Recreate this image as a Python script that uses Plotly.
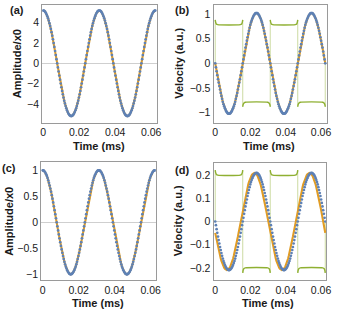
import plotly.graph_objects as go

# ---------------- data ----------------
time_ms = [
    0.0, 0.00039, 0.00078, 0.00117, 0.00156, 0.00195, 0.00234, 0.00273, 0.00312, 0.00351,
    0.0039, 0.00429, 0.00468, 0.00507, 0.00546, 0.00585, 0.00624, 0.00663, 0.00702, 0.00741,
    0.0078, 0.00819, 0.00858, 0.00897, 0.00936, 0.00975, 0.01014, 0.01053, 0.01092, 0.01131,
    0.0117, 0.01209, 0.01248, 0.01287, 0.01326, 0.01365, 0.01404, 0.01443, 0.01482, 0.01521,
    0.0156, 0.01599, 0.01638, 0.01677, 0.01716, 0.01755, 0.01794, 0.01833, 0.01872, 0.01911,
    0.0195, 0.01989, 0.02028, 0.02067, 0.02106, 0.02145, 0.02184, 0.02223, 0.02262, 0.02301,
    0.0234, 0.02379, 0.02418, 0.02457, 0.02496, 0.02535, 0.02574, 0.02613, 0.02652, 0.02691,
    0.0273, 0.02769, 0.02808, 0.02847, 0.02886, 0.02925, 0.02964, 0.03003, 0.03042, 0.03081,
    0.0312, 0.03159, 0.03198, 0.03237, 0.03276, 0.03315, 0.03354, 0.03393, 0.03432, 0.03471,
    0.0351, 0.03549, 0.03588, 0.03627, 0.03666, 0.03705, 0.03744, 0.03783, 0.03822, 0.03861,
    0.039, 0.03939, 0.03978, 0.04017, 0.04056, 0.04095, 0.04134, 0.04173, 0.04212, 0.04251,
    0.0429, 0.04329, 0.04368, 0.04407, 0.04446, 0.04485, 0.04524, 0.04563, 0.04602, 0.04641,
    0.0468, 0.04719, 0.04758, 0.04797, 0.04836, 0.04875, 0.04914, 0.04953, 0.04992, 0.05031,
    0.0507, 0.05109, 0.05148, 0.05187, 0.05226, 0.05265, 0.05304, 0.05343, 0.05382, 0.05421,
    0.0546, 0.05499, 0.05538, 0.05577, 0.05616, 0.05655, 0.05694, 0.05733, 0.05772, 0.05811,
    0.0585, 0.05889, 0.05928, 0.05967, 0.06006, 0.06045, 0.06084, 0.06123, 0.06162, 0.06201,
    0.0624,
]

# (a) amplitude / x0
amp_a = [
    5.20, 5.18, 5.14, 5.06, 4.95, 4.80, 4.63, 4.43, 4.21, 3.95,
    3.68, 3.38, 3.06, 2.72, 2.36, 1.99, 1.61, 1.21, 0.81, 0.41,
    0.00, -0.41, -0.81, -1.21, -1.61, -1.99, -2.36, -2.72, -3.06, -3.38,
    -3.68, -3.95, -4.21, -4.43, -4.63, -4.80, -4.95, -5.06, -5.14, -5.18,
    -5.20, -5.18, -5.14, -5.06, -4.95, -4.80, -4.63, -4.43, -4.21, -3.95,
    -3.68, -3.38, -3.06, -2.72, -2.36, -1.99, -1.61, -1.21, -0.81, -0.41,
    0.00, 0.41, 0.81, 1.21, 1.61, 1.99, 2.36, 2.72, 3.06, 3.38,
    3.68, 3.95, 4.21, 4.43, 4.63, 4.80, 4.95, 5.06, 5.14, 5.18,
    5.20, 5.18, 5.14, 5.06, 4.95, 4.80, 4.63, 4.43, 4.21, 3.95,
    3.68, 3.38, 3.06, 2.72, 2.36, 1.99, 1.61, 1.21, 0.81, 0.41,
    0.00, -0.41, -0.81, -1.21, -1.61, -1.99, -2.36, -2.72, -3.06, -3.38,
    -3.68, -3.95, -4.21, -4.43, -4.63, -4.80, -4.95, -5.06, -5.14, -5.18,
    -5.20, -5.18, -5.14, -5.06, -4.95, -4.80, -4.63, -4.43, -4.21, -3.95,
    -3.68, -3.38, -3.06, -2.72, -2.36, -1.99, -1.61, -1.21, -0.81, -0.41,
    0.00, 0.41, 0.81, 1.21, 1.61, 1.99, 2.36, 2.72, 3.06, 3.38,
    3.68, 3.95, 4.21, 4.43, 4.63, 4.80, 4.95, 5.06, 5.14, 5.18,
    5.20,
]

# (b) velocity
vel_b = [
    0.00, -0.08, -0.16, -0.24, -0.32, -0.39, -0.46, -0.53, -0.60, -0.66,
    -0.72, -0.78, -0.83, -0.87, -0.91, -0.94, -0.97, -0.99, -1.01, -1.02,
    -1.02, -1.02, -1.01, -0.99, -0.97, -0.94, -0.91, -0.87, -0.83, -0.78,
    -0.72, -0.66, -0.60, -0.53, -0.46, -0.39, -0.32, -0.24, -0.16, -0.08,
    0.00, 0.08, 0.16, 0.24, 0.32, 0.39, 0.46, 0.53, 0.60, 0.66,
    0.72, 0.78, 0.83, 0.87, 0.91, 0.94, 0.97, 0.99, 1.01, 1.02,
    1.02, 1.02, 1.01, 0.99, 0.97, 0.94, 0.91, 0.87, 0.83, 0.78,
    0.72, 0.66, 0.60, 0.53, 0.46, 0.39, 0.32, 0.24, 0.16, 0.08,
    0.00, -0.08, -0.16, -0.24, -0.32, -0.39, -0.46, -0.53, -0.60, -0.66,
    -0.72, -0.78, -0.83, -0.87, -0.91, -0.94, -0.97, -0.99, -1.01, -1.02,
    -1.02, -1.02, -1.01, -0.99, -0.97, -0.94, -0.91, -0.87, -0.83, -0.78,
    -0.72, -0.66, -0.60, -0.53, -0.46, -0.39, -0.32, -0.24, -0.16, -0.08,
    0.00, 0.08, 0.16, 0.24, 0.32, 0.39, 0.46, 0.53, 0.60, 0.66,
    0.72, 0.78, 0.83, 0.87, 0.91, 0.94, 0.97, 0.99, 1.01, 1.02,
    1.02, 1.02, 1.01, 0.99, 0.97, 0.94, 0.91, 0.87, 0.83, 0.78,
    0.72, 0.66, 0.60, 0.53, 0.46, 0.39, 0.32, 0.24, 0.16, 0.08,
    0.00,
]

# (c) amplitude / x0
amp_c = [
    1.000, 0.997, 0.988, 0.972, 0.951, 0.924, 0.891, 0.853, 0.809, 0.760,
    0.707, 0.649, 0.588, 0.522, 0.454, 0.383, 0.309, 0.233, 0.156, 0.078,
    0.000, -0.078, -0.156, -0.233, -0.309, -0.383, -0.454, -0.522, -0.588, -0.649,
    -0.707, -0.760, -0.809, -0.853, -0.891, -0.924, -0.951, -0.972, -0.988, -0.997,
    -1.000, -0.997, -0.988, -0.972, -0.951, -0.924, -0.891, -0.853, -0.809, -0.760,
    -0.707, -0.649, -0.588, -0.522, -0.454, -0.383, -0.309, -0.233, -0.156, -0.078,
    0.000, 0.078, 0.156, 0.233, 0.309, 0.383, 0.454, 0.522, 0.588, 0.649,
    0.707, 0.760, 0.809, 0.853, 0.891, 0.924, 0.951, 0.972, 0.988, 0.997,
    1.000, 0.997, 0.988, 0.972, 0.951, 0.924, 0.891, 0.853, 0.809, 0.760,
    0.707, 0.649, 0.588, 0.522, 0.454, 0.383, 0.309, 0.233, 0.156, 0.078,
    0.000, -0.078, -0.156, -0.233, -0.309, -0.383, -0.454, -0.522, -0.588, -0.649,
    -0.707, -0.760, -0.809, -0.853, -0.891, -0.924, -0.951, -0.972, -0.988, -0.997,
    -1.000, -0.997, -0.988, -0.972, -0.951, -0.924, -0.891, -0.853, -0.809, -0.760,
    -0.707, -0.649, -0.588, -0.522, -0.454, -0.383, -0.309, -0.233, -0.156, -0.078,
    0.000, 0.078, 0.156, 0.233, 0.309, 0.383, 0.454, 0.522, 0.588, 0.649,
    0.707, 0.760, 0.809, 0.853, 0.891, 0.924, 0.951, 0.972, 0.988, 0.997,
    1.000,
]

# (d) velocity: dots and fitted line
vel_d = [
    0.000, -0.016, -0.033, -0.049, -0.065, -0.080, -0.095, -0.110, -0.123, -0.136,
    -0.148, -0.160, -0.170, -0.179, -0.187, -0.194, -0.200, -0.204, -0.207, -0.209,
    -0.210, -0.209, -0.207, -0.204, -0.200, -0.194, -0.187, -0.179, -0.170, -0.160,
    -0.148, -0.136, -0.123, -0.110, -0.095, -0.080, -0.065, -0.049, -0.033, -0.016,
    0.000, 0.016, 0.033, 0.049, 0.065, 0.080, 0.095, 0.110, 0.123, 0.136,
    0.148, 0.160, 0.170, 0.179, 0.187, 0.194, 0.200, 0.204, 0.207, 0.209,
    0.210, 0.209, 0.207, 0.204, 0.200, 0.194, 0.187, 0.179, 0.170, 0.160,
    0.148, 0.136, 0.123, 0.110, 0.095, 0.080, 0.065, 0.049, 0.033, 0.016,
    0.000, -0.016, -0.033, -0.049, -0.065, -0.080, -0.095, -0.110, -0.123, -0.136,
    -0.148, -0.160, -0.170, -0.179, -0.187, -0.194, -0.200, -0.204, -0.207, -0.209,
    -0.210, -0.209, -0.207, -0.204, -0.200, -0.194, -0.187, -0.179, -0.170, -0.160,
    -0.148, -0.136, -0.123, -0.110, -0.095, -0.080, -0.065, -0.049, -0.033, -0.016,
    0.000, 0.016, 0.033, 0.049, 0.065, 0.080, 0.095, 0.110, 0.123, 0.136,
    0.148, 0.160, 0.170, 0.179, 0.187, 0.194, 0.200, 0.204, 0.207, 0.209,
    0.210, 0.209, 0.207, 0.204, 0.200, 0.194, 0.187, 0.179, 0.170, 0.160,
    0.148, 0.136, 0.123, 0.110, 0.095, 0.080, 0.065, 0.049, 0.033, 0.016,
    0.000,
]
fit_d = [
    -0.049, -0.065, -0.080, -0.095, -0.110, -0.123, -0.136, -0.148, -0.160, -0.170,
    -0.179, -0.187, -0.194, -0.200, -0.204, -0.207, -0.209, -0.210, -0.209, -0.207,
    -0.204, -0.200, -0.194, -0.187, -0.179, -0.170, -0.160, -0.148, -0.136, -0.123,
    -0.110, -0.095, -0.080, -0.065, -0.049, -0.033, -0.016, 0.000, 0.016, 0.033,
    0.049, 0.065, 0.080, 0.095, 0.110, 0.123, 0.136, 0.148, 0.160, 0.170,
    0.179, 0.187, 0.194, 0.200, 0.204, 0.207, 0.209, 0.210, 0.209, 0.207,
    0.204, 0.200, 0.194, 0.187, 0.179, 0.170, 0.160, 0.148, 0.136, 0.123,
    0.110, 0.095, 0.080, 0.065, 0.049, 0.033, 0.016, 0.000, -0.016, -0.033,
    -0.049, -0.065, -0.080, -0.095, -0.110, -0.123, -0.136, -0.148, -0.160, -0.170,
    -0.179, -0.187, -0.194, -0.200, -0.204, -0.207, -0.209, -0.210, -0.209, -0.207,
    -0.204, -0.200, -0.194, -0.187, -0.179, -0.170, -0.160, -0.148, -0.136, -0.123,
    -0.110, -0.095, -0.080, -0.065, -0.049, -0.033, -0.016, 0.000, 0.016, 0.033,
    0.049, 0.065, 0.080, 0.095, 0.110, 0.123, 0.136, 0.148, 0.160, 0.170,
    0.179, 0.187, 0.194, 0.200, 0.204, 0.207, 0.209, 0.210, 0.209, 0.207,
    0.204, 0.200, 0.194, 0.187, 0.179, 0.170, 0.160, 0.148, 0.136, 0.123,
    0.110, 0.095, 0.080, 0.065, 0.049, 0.033, 0.016, 0.000, -0.016, -0.033,
    -0.049,
]

# square-wave driving signal (green): plateaus with edge overshoot
sq_t = [0.0, 0.0002, 0.0006, 0.0014, 0.0142, 0.0150, 0.0154, 0.0156, None,
        0.0156, 0.0158, 0.0162, 0.0170, 0.0298, 0.0306, 0.0310, 0.0312, None,
        0.0312, 0.0314, 0.0318, 0.0326, 0.0454, 0.0462, 0.0466, 0.0468, None,
        0.0468, 0.0470, 0.0474, 0.0482, 0.0610, 0.0618, 0.0622, 0.0624]
sq_b = [0.88, 0.84, 0.80, 0.785, 0.785, 0.80, 0.84, 0.88, None,
        -0.88, -0.84, -0.81, -0.79, -0.79, -0.81, -0.84, -0.88, None,
        0.88, 0.84, 0.80, 0.785, 0.785, 0.80, 0.84, 0.88, None,
        -0.88, -0.84, -0.81, -0.79, -0.79, -0.81, -0.84, -0.88]
sq_d = [0.222, 0.212, 0.204, 0.200, 0.200, 0.204, 0.212, 0.222, None,
        -0.222, -0.212, -0.204, -0.200, -0.200, -0.204, -0.212, -0.222, None,
        0.222, 0.212, 0.204, 0.200, 0.200, 0.204, 0.212, 0.222, None,
        -0.222, -0.212, -0.204, -0.200, -0.200, -0.204, -0.212, -0.222]
# switching edges of the square wave
edge_t = [0.0, 0.0, None, 0.0156, 0.0156, None, 0.0312, 0.0312, None,
          0.0468, 0.0468, None, 0.0624, 0.0624]
edge_b = [0.0, 0.88, None, 0.88, -0.88, None, -0.88, 0.88, None,
          0.88, -0.88, None, -0.88, 0.0]
edge_d = [0.0, 0.222, None, 0.222, -0.222, None, -0.222, 0.222, None,
          0.222, -0.222, None, -0.222, 0.0]

x_ticks = [0, 0.02, 0.04, 0.06]
x_ticktext = ["0", "0.02", "0.04", "0.06"]
y_ticks_a = [-4, -2, 0, 2, 4]
y_ticks_b = [-1, -0.5, 0, 0.5, 1]
y_ticks_c = [-1, -0.5, 0, 0.5, 1]
y_ticks_d = [-0.2, -0.1, 0, 0.1, 0.2]
panel_labels = ["(a)", "(b)", "(c)", "(d)"]
y_titles = ["Amplitude/x0", "Velocity (a.u.)", "Amplitude/x0", "Velocity (a.u.)"]
x_title = "Time (ms)"

# ---------------- styling ----------------
W, H = 341, 314
BLUE = "#5E81B5"
ORANGE = "#E19C24"
GREEN = "#8FB032"
GREEN_EDGE = "rgba(143,176,50,0.45)"
FRAME = "#9a9a9a"
FONT = "Liberation Sans, Arial, sans-serif"


def fx(p):
    return p / W


def fy(p):
    return 1 - p / H


panels = [
    # name, x px domain, y px domain (top, bottom), xrange, yrange, yticks
    ("", (41, 158), (4.7, 122.5), [-0.000544, 0.06311], [-5.83, 5.77], y_ticks_a),
    ("2", (216, 332), (4.7, 122.5), [-0.000944, 0.0635], [-1.20, 1.19], y_ticks_b),
    ("3", (40, 157), (162.3, 280), [-0.000816, 0.06284], [-1.11, 1.154], y_ticks_c),
    ("4", (216, 331), (163, 280), [-0.000944, 0.06294], [-0.2525, 0.2525], y_ticks_d),
]

fig = go.Figure()

series = [
    (amp_a, amp_a, None, None),
    (vel_b, vel_b, sq_b, edge_b),
    (amp_c, amp_c, None, None),
    (vel_d, fit_d, sq_d, edge_d),
]

for (name, _, _, _, _, _), (dots, line, sq, edge) in zip(panels, series):
    xa = "x" + name
    ya = "y" + name
    if sq is not None:
        fig.add_trace(go.Scatter(x=edge_t, y=edge, mode="lines",
                                 line=dict(color=GREEN_EDGE, width=1),
                                 xaxis=xa, yaxis=ya, hoverinfo="skip"))
        fig.add_trace(go.Scatter(x=sq_t, y=sq, mode="lines",
                                 line=dict(color=GREEN, width=1.4, shape="spline", smoothing=0.6),
                                 xaxis=xa, yaxis=ya, hoverinfo="skip"))
    fig.add_trace(go.Scatter(x=time_ms, y=line, mode="lines",
                             line=dict(color=ORANGE, width=2.1),
                             xaxis=xa, yaxis=ya))
    fig.add_trace(go.Scatter(x=time_ms, y=dots, mode="markers",
                             marker=dict(color=BLUE, size=2.7, line=dict(width=0)),
                             xaxis=xa, yaxis=ya))

layout = dict(
    width=W, height=H, margin=dict(l=0, r=0, t=0, b=0),
    paper_bgcolor="white", plot_bgcolor="white", showlegend=False,
    font=dict(family=FONT, size=10.5, color="#1a1a1a"),
)

for name, (xl, xr), (yt, yb), xrng, yrng, yticks in panels:
    layout["xaxis" + name] = dict(
        domain=[fx(xl), fx(xr)], range=xrng, anchor="y" + name,
        tickmode="array", tickvals=x_ticks, ticktext=x_ticktext,
        showline=True, mirror=True, linecolor=FRAME, linewidth=1,
        showgrid=False, zeroline=False, ticks="",
        tickfont=dict(family=FONT, size=10.5, color="#1a1a1a"),
    )
    layout["yaxis" + name] = dict(
        domain=[fy(yb), fy(yt)], range=yrng, anchor="x" + name,
        tickmode="array", tickvals=yticks,
        showline=True, mirror=True, linecolor=FRAME, linewidth=1,
        showgrid=False, zeroline=True, zerolinecolor="#cfcfcf", zerolinewidth=1,
        ticks="",
        tickfont=dict(family=FONT, size=10.5, color="#1a1a1a"),
    )

annotations = []
label_pos = [(15, 10), (184, 10), (7.5, 168), (184, 169.5)]
for txt, (px, py) in zip(panel_labels, label_pos):
    annotations.append(dict(text="<b>%s</b>" % txt, x=fx(px), y=fy(py), xref="paper", yref="paper",
                            showarrow=False, xanchor="center", yanchor="middle",
                            font=dict(family=FONT, size=11, color="#1a1a1a")))
ytitle_pos = [(15, 63.5), (180, 63.5), (7, 221), (180, 221)]
for txt, (px, py) in zip(y_titles, ytitle_pos):
    annotations.append(dict(text="<b>%s</b>" % txt, x=fx(px), y=fy(py), xref="paper", yref="paper",
                            showarrow=False, xanchor="center", yanchor="middle", textangle=-90,
                            font=dict(family=FONT, size=11, color="#1a1a1a")))
xtitle_pos = [(99.5, 146), (273, 146), (98.5, 303), (272, 303)]
for px, py in xtitle_pos:
    annotations.append(dict(text="<b>%s</b>" % x_title, x=fx(px), y=fy(py), xref="paper", yref="paper",
                            showarrow=False, xanchor="center", yanchor="middle",
                            font=dict(family=FONT, size=11, color="#1a1a1a")))
layout["annotations"] = annotations

fig.update_layout(**layout)
fig.write_html(
    "out.html",
    config={"displayModeBar": False},
    post_script="document.body.style.margin='0';document.body.style.padding='0';"
                "document.documentElement.style.overflow='hidden';",
)
